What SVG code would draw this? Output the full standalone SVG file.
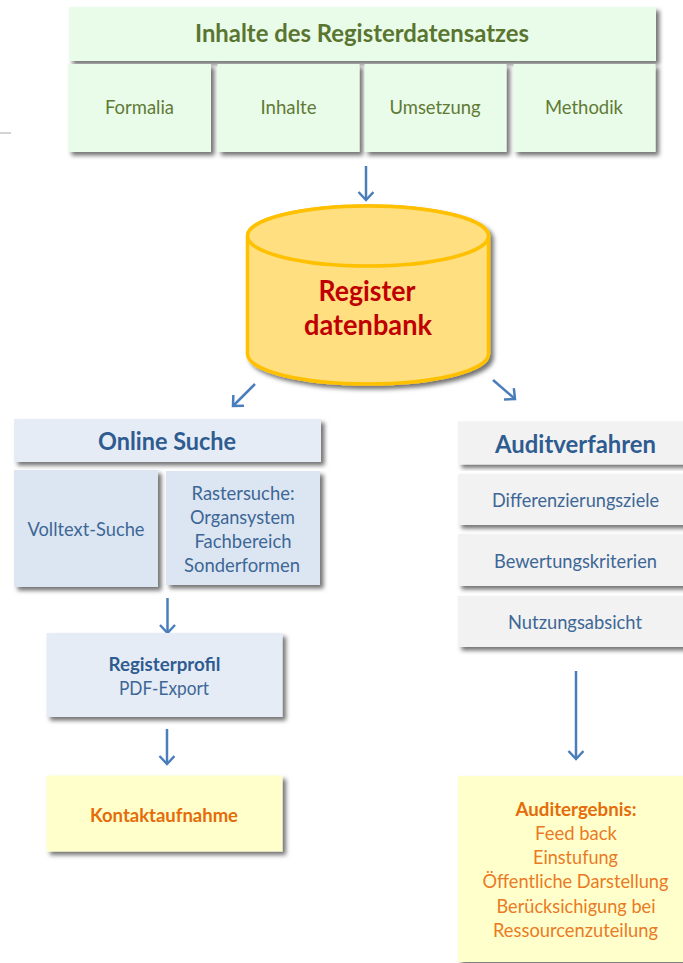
<svg xmlns="http://www.w3.org/2000/svg" width="683" height="963" viewBox="0 0 683 963">
<style>
text{font-family:Lato,"Open Sans","Liberation Sans",sans-serif;text-anchor:middle}
.box{filter:url(#sh)}
.g{fill:#E9FBE9}.b1{fill:#E6ECF6}.b2{fill:#DCE6F2}.gr{fill:#F2F2F2}.y{fill:#FFFFCC}
.tg{fill:#5F7A35;font-size:19px}.tgb{fill:#5A7530;font-size:24px;font-weight:700}
.tb{fill:#3D6796;font-size:19px}.tbb{fill:#2F5C90;font-size:24px;font-weight:700}
.tbs{fill:#2F5C90;font-size:19px;font-weight:700}
.to{fill:#EA7A24;font-size:19px}.tob{fill:#E46C0A;font-size:19px;font-weight:700}
.tr{fill:#C00000;font-size:28px;font-weight:700}
.arrow{fill:none;stroke:#4A7EBB;stroke-width:2.5;marker-end:url(#ah)}
</style>
<defs>
<filter id="sh" x="-10%" y="-15%" width="120%" height="130%"><feDropShadow dx="3.500" dy="3.500" stdDeviation="2" flood-color="#000" flood-opacity=".55"/></filter>
<marker id="ah" markerUnits="userSpaceOnUse" markerWidth="20" markerHeight="20" refX="15" refY="8" orient="auto"><path d="M7 0.500L15 8L7 15.500" fill="none" stroke="#4A7EBB" stroke-width="2.500"/></marker>
</defs>
<rect x="0" y="132" width="11" height="2" fill="#D4D4D4"/>
<g id="connectors">
<path class="arrow" d="M366 166V200"/>
<path class="arrow" d="M255 384L233 406"/>
<path class="arrow" d="M493 380L515 399"/>
<path class="arrow" d="M167.500 598V633"/>
<path class="arrow" d="M167 729V764"/>
<path class="arrow" d="M576 671V759"/>
</g>
<g id="header"><rect class="box g" x="69" y="7" width="587" height="54"/><text class="tgb" x="362" y="42" textLength="334" lengthAdjust="spacingAndGlyphs">Inhalte des Registerdatensatzes</text></g>
<g id="formalia"><rect class="box g" x="68" y="64" width="143" height="88"/><text class="tg" x="139.500" y="114" textLength="69" lengthAdjust="spacingAndGlyphs">Formalia</text></g>
<g id="inhalte"><rect class="box g" x="217.500" y="64" width="142" height="88"/><text class="tg" x="288.500" y="114" textLength="56" lengthAdjust="spacingAndGlyphs">Inhalte</text></g>
<g id="umsetzung"><rect class="box g" x="364.500" y="64" width="142" height="88"/><text class="tg" x="435" y="114" textLength="91" lengthAdjust="spacingAndGlyphs">Umsetzung</text></g>
<g id="methodik"><rect class="box g" x="513.500" y="64" width="142" height="88"/><text class="tg" x="584" y="114" textLength="78" lengthAdjust="spacingAndGlyphs">Methodik</text></g>
<g id="datenbank">
<path class="box" d="M247.500 236A120.500 30 0 0 1 488.500 236V354A120.500 30 0 0 1 247.500 354Z" fill="#FFDF80" stroke="#FFC000" stroke-width="3.500"/>
<ellipse cx="368" cy="236" rx="120.500" ry="30" fill="#FFDF80" stroke="#FFC000" stroke-width="3.500"/>
<text class="tr" x="367" y="301" textLength="97" lengthAdjust="spacingAndGlyphs">Register</text>
<text class="tr" x="368" y="335" textLength="128" lengthAdjust="spacingAndGlyphs">datenbank</text>
</g>
<g id="online-suche"><rect class="box b1" x="14" y="419" width="307" height="43"/><text class="tbb" x="167" y="450" textLength="138" lengthAdjust="spacingAndGlyphs">Online Suche</text></g>
<g id="volltext"><rect class="box b2" x="14" y="470" width="144" height="117"/><text class="tb" x="86" y="535.500" textLength="117" lengthAdjust="spacingAndGlyphs">Volltext-Suche</text></g>
<g id="rastersuche"><rect class="box b2" x="166" y="471" width="154" height="114"/>
<text class="tb" x="243" y="499.500" textLength="103" lengthAdjust="spacingAndGlyphs">Rastersuche:</text>
<text class="tb" x="242.500" y="523.500" textLength="105" lengthAdjust="spacingAndGlyphs">Organsystem</text>
<text class="tb" x="243" y="547.500" textLength="97" lengthAdjust="spacingAndGlyphs">Fachbereich</text>
<text class="tb" x="242" y="571.500" textLength="116" lengthAdjust="spacingAndGlyphs">Sonderformen</text></g>
<g id="registerprofil"><rect class="box b1" x="46.500" y="633" width="236" height="84"/>
<text class="tbs" x="164.500" y="670.500" textLength="112" lengthAdjust="spacingAndGlyphs">Registerprofil</text>
<text class="tb" x="164" y="694.500" textLength="90" lengthAdjust="spacingAndGlyphs">PDF-Export</text></g>
<g id="kontaktaufnahme"><rect class="box y" x="46.500" y="775.500" width="236" height="76"/><text class="tob" x="164" y="821.500" textLength="148" lengthAdjust="spacingAndGlyphs">Kontaktaufnahme</text></g>
<g id="auditverfahren"><rect class="box gr" x="458" y="421.500" width="228" height="43"/><text class="tbb" x="575.500" y="452.500" textLength="161" lengthAdjust="spacingAndGlyphs">Auditverfahren</text></g>
<g id="differenzierungsziele"><rect class="box gr" x="458" y="474" width="228" height="51"/><text class="tb" x="575.500" y="507" textLength="167" lengthAdjust="spacingAndGlyphs">Differenzierungsziele</text></g>
<g id="bewertungskriterien"><rect class="box gr" x="458" y="534" width="228" height="52"/><text class="tb" x="575.500" y="567.500" textLength="163" lengthAdjust="spacingAndGlyphs">Bewertungskriterien</text></g>
<g id="nutzungsabsicht"><rect class="box gr" x="458" y="596" width="228" height="51"/><text class="tb" x="575" y="629" textLength="134" lengthAdjust="spacingAndGlyphs">Nutzungsabsicht</text></g>
<g id="auditergebnis"><rect class="box y" x="458" y="776" width="228" height="186"/>
<text class="tob" x="576" y="816" textLength="121" lengthAdjust="spacingAndGlyphs">Auditergebnis:</text>
<text class="to" x="576" y="840" textLength="82" lengthAdjust="spacingAndGlyphs">Feed back</text>
<text class="to" x="575.500" y="864" textLength="85" lengthAdjust="spacingAndGlyphs">Einstufung</text>
<text class="to" x="575.500" y="888" textLength="186" lengthAdjust="spacingAndGlyphs">Öffentliche Darstellung</text>
<text class="to" x="576" y="912.500" textLength="159" lengthAdjust="spacingAndGlyphs">Berücksichigung bei</text>
<text class="to" x="575.500" y="937" textLength="165" lengthAdjust="spacingAndGlyphs">Ressourcenzuteilung</text></g>
</svg>
